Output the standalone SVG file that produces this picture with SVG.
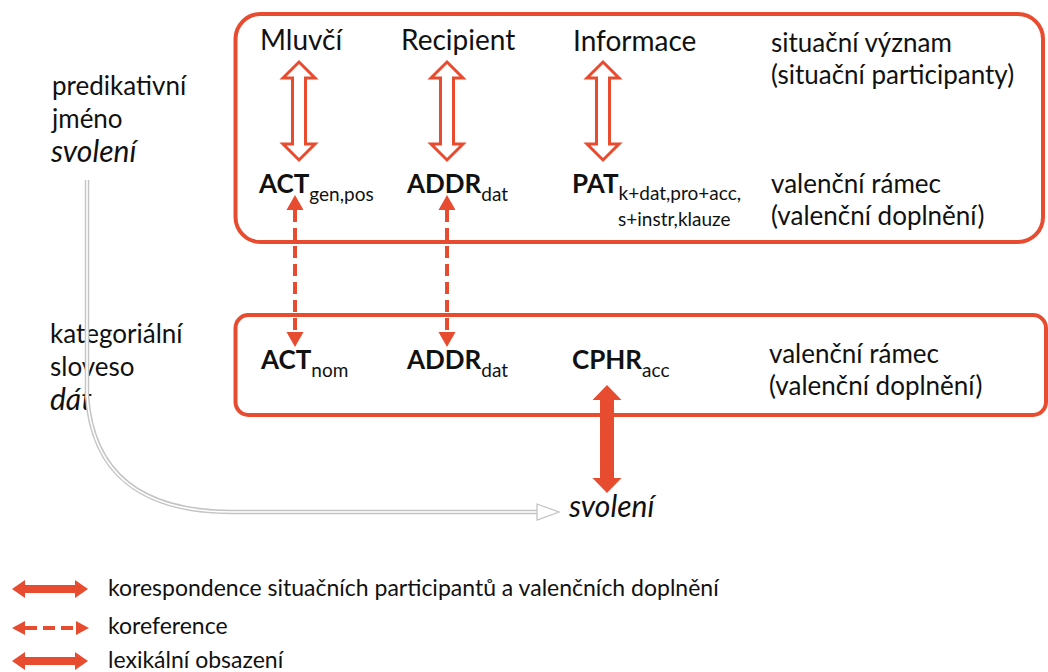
<svg xmlns="http://www.w3.org/2000/svg" width="1048" height="672" viewBox="0 0 1048 672">
<style>
text{font-family:Lato,"Open Sans","Liberation Sans",sans-serif;fill:#111;}
.big{font-size:28px;}
.lbl{font-size:26px;}
.it{font-style:italic;font-size:30px;}
.b{font-size:26px;font-weight:bold;}
.sub{font-size:19px;}
.leg{font-size:23px;}
.box{fill:none;stroke:#e84c30;stroke-width:4;}
.hollow{fill:#fff;stroke:#e84c30;stroke-width:3;stroke-linejoin:miter;}
.solid{fill:#e84c30;stroke:none;}
.dash{stroke:#e84c30;stroke-width:4;stroke-dasharray:12 6;fill:none;}
</style>
<defs>
<polygon id="hol" points="0,0 16,16 6.5,16 6.5,82 16,82 0,98 -16,82 -6.5,82 -6.5,16 -16,16"/>
</defs>
<g id="box-top"><rect class="box" x="235.5" y="14" width="807.5" height="228" rx="25"/></g>
<g id="box-bottom"><rect class="box" x="235.5" y="315" width="810.5" height="100" rx="13"/></g>
<g id="labels-left">
<text class="lbl" x="52" y="95">predikativní</text>
<text class="lbl" x="52" y="128">jméno</text>
<text class="lbl it" x="51" y="162">svolení</text>
<text class="lbl" x="50" y="343">kategoriální</text>
<text class="lbl" x="50" y="376">sloveso</text>
<text class="lbl it" x="50" y="410">dát</text>
</g>
<g id="participants">
<text class="big" x="260" y="50">Mluvčí</text>
<text class="big" x="401" y="50">Recipient</text>
<text class="big" x="573" y="51">Informace</text>
</g>
<g id="labels-right">
<text class="lbl" x="771" y="52">situační význam</text>
<text class="lbl" x="771" y="84">(situační participanty)</text>
<text class="lbl" x="771" y="193">valenční rámec</text>
<text class="lbl" x="771" y="225">(valenční doplnění)</text>
<text class="lbl" x="769" y="363">valenční rámec</text>
<text class="lbl" x="769" y="395">(valenční doplnění)</text>
</g>
<g id="frame-top">
<text x="259" y="193"><tspan class="b">ACT</tspan><tspan class="sub" dy="8">gen,pos</tspan></text>
<text x="407" y="193"><tspan class="b">ADDR</tspan><tspan class="sub" dy="8">dat</tspan></text>
<text x="572" y="193"><tspan class="b">PAT</tspan><tspan class="sub" dy="7">k+dat,pro+acc,</tspan></text>
<text class="sub" x="618" y="226">s+instr,klauze</text>
</g>
<g id="frame-bottom">
<text x="261" y="369"><tspan class="b">ACT</tspan><tspan class="sub" dy="8">nom</tspan></text>
<text x="407" y="369"><tspan class="b">ADDR</tspan><tspan class="sub" dy="8">dat</tspan></text>
<text x="572" y="369"><tspan class="b">CPHR</tspan><tspan class="sub" dy="8">acc</tspan></text>
</g>
<g id="svoleni-noun"><text class="lbl it" x="569" y="517">svolení</text></g>
<g id="connectors">
<use href="#hol" class="hollow" x="299" y="62"/>
<use href="#hol" class="hollow" x="447" y="62"/>
<use href="#hol" class="hollow" x="603" y="62"/>
<line class="dash" x1="295" y1="210" x2="295" y2="334"/>
<polygon class="solid" points="295,195 303.5,210 286.5,210"/>
<polygon class="solid" points="295,347 303.5,332 286.5,332"/>
<line class="dash" x1="447" y1="210" x2="447" y2="334"/>
<polygon class="solid" points="447,195 455.5,210 438.5,210"/>
<polygon class="solid" points="447,347 455.5,332 438.5,332"/>
<polygon class="solid" points="607,385 621.5,400 614,400 614,478 621.5,478 607,493 592.5,478 600,478 600,400 592.5,400"/>
<path d="M87,180 V395 C92,472 140,512 232,512 H538" fill="none" stroke="#c4c4c4" stroke-width="4.5"/>
<path d="M87,180 V395 C92,472 140,512 232,512 H539" fill="none" stroke="#fff" stroke-width="1.6"/>
<polygon points="537,504 559,512 537,520" fill="#fff" stroke="#c4c4c4" stroke-width="1.3"/>
</g>
<g id="legend">
<polygon class="solid" points="12,589 25,580 25,585 75,585 75,580 88,589 75,598 75,593 25,593 25,598"/>
<text class="leg" x="108" y="596">korespondence situačních participantů a valenčních doplnění</text>
<line class="dash" x1="25" y1="628" x2="76" y2="628" stroke-dasharray="9 5"/>
<polygon class="solid" points="12,628 25,621 25,635"/>
<polygon class="solid" points="89,628 76,621 76,635"/>
<text class="leg" x="108" y="634">koreference</text>
<polygon class="solid" points="12,661 25,652 25,657 75,657 75,652 88,661 75,670 75,665 25,665 25,670"/>
<text class="leg" x="108" y="668">lexikální obsazení</text>
</g>
</svg>
